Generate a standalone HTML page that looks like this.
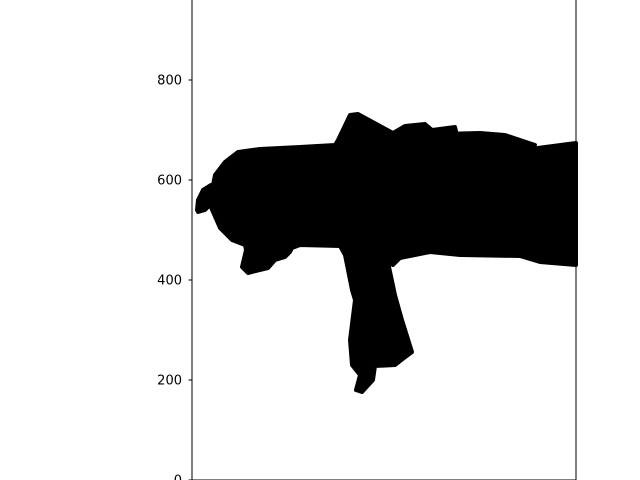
<!DOCTYPE html>
<html><head><meta charset="utf-8"><style>
html,body{margin:0;padding:0;background:#fff;}
svg{display:block;font-family:"DejaVu Sans","Liberation Sans",sans-serif;}
</style></head><body>
<svg id="chart" width="640" height="480">
<rect x="0" y="0" width="640" height="480" fill="#fff"/>
<g id="marks"></g>
<g id="axes"></g>
</svg>
<script>
// outline of the scatter cloud in data coordinates (x units, y units)
const outlineX = [10,12,22,38,40,36,46,66,92,136,216,286,292,316,332,402,426,466,480,526,528,496,576,626,686,676,768,768,696,656,536,476,416,402,392,406,420,440,424,406,366,362,340,328,336,320,316,326,320,306,296,216,200,196,186,166,152,112,100,108,106,80,56,42,36,26,12];
const outlineY = [540,560,580,590,576,560,610,636,656,662,666,670,680,730,732,694,708,712,700,706,698,692,694,690,670,662,674,430,436,448,450,456,444,430,436,370,320,256,244,230,228,200,176,180,210,230,280,360,380,450,468,470,464,456,446,440,424,414,426,460,470,480,504,536,550,540,536];
const yTicks = [0,200,400,600,800];
const yTickLabels = ["0","200","400","600","800"];

const L=192,R=576,T=0,B=480;
const sx = v => L + v*0.5;
const sy = v => B - v*0.5;
const NS="http://www.w3.org/2000/svg";
const marks=document.getElementById('marks');
const poly=document.createElementNS(NS,'polygon');
poly.setAttribute('points', outlineX.map((x,i)=>sx(x)+','+sy(outlineY[i])).join(' '));
poly.setAttribute('fill','#000');
poly.setAttribute('stroke','#000');
poly.setAttribute('stroke-width','4');
poly.setAttribute('stroke-linejoin','round');


marks.appendChild(poly);

const axes=document.getElementById('axes');
const frame=document.createElementNS(NS,'rect');
frame.setAttribute('x',L);frame.setAttribute('y',T-1);
frame.setAttribute('width',R-L);frame.setAttribute('height',B-T+1);
frame.setAttribute('fill','none');frame.setAttribute('stroke','#000');frame.setAttribute('stroke-width','1');


axes.appendChild(frame);
yTicks.forEach((v,i)=>{
  const y=sy(v);
  const t=document.createElementNS(NS,'line');
  t.setAttribute('x1',L-3.5);t.setAttribute('x2',L);t.setAttribute('y1',y);t.setAttribute('y2',y);
  t.setAttribute('stroke','#000');
  
  
  axes.appendChild(t);
  const tx=document.createElementNS(NS,'text');
  tx.setAttribute('x',L-10);tx.setAttribute('y',y+4.5);
  tx.setAttribute('text-anchor','end');tx.setAttribute('font-size','13');
  tx.textContent=yTickLabels[i];
  
  
  axes.appendChild(tx);
});
</script>
</body></html>
